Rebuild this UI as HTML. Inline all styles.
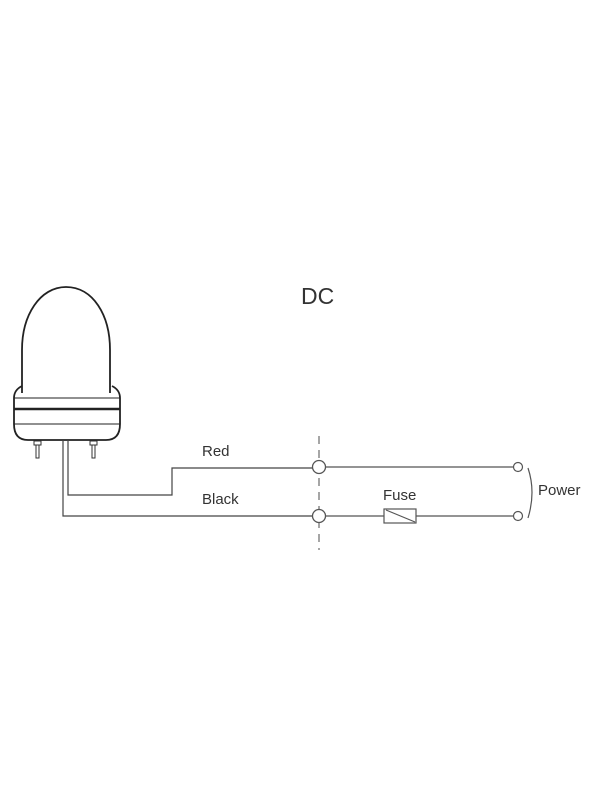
<!DOCTYPE html>
<html><head><style>
html,body{margin:0;padding:0;background:#fff;}
svg{display:block;}
text{font-family:"Liberation Sans",Arial,sans-serif;fill:#333;}
</style></head><body>
<svg width="600" height="800" viewBox="0 0 600 800">
<text x="301" y="304" font-size="23">DC</text>
<!-- lamp -->
<path d="M22,393 L22,350 C22,315 40,287 66,287 C93,287 110,315 110,350 L110,393" fill="none" stroke="#222" stroke-width="1.8"/>
<path d="M22,386 Q14,390 14,398 L14,424 Q14,440 28,440 L106,440 Q120,440 120,424 L120,398 Q120,390 112,386" fill="none" stroke="#222" stroke-width="1.8"/>
<line x1="14" y1="398" x2="120" y2="398" stroke="#222" stroke-width="1"/>
<line x1="14" y1="409" x2="120" y2="409" stroke="#222" stroke-width="2.5"/>
<line x1="14" y1="424" x2="120" y2="424" stroke="#222" stroke-width="1"/>
<rect x="34" y="441" width="7" height="4" fill="none" stroke="#333" stroke-width="1"/>
<rect x="36" y="445" width="3" height="13" fill="none" stroke="#333" stroke-width="1"/>
<rect x="90" y="441" width="7" height="4" fill="none" stroke="#333" stroke-width="1"/>
<rect x="92" y="445" width="3" height="13" fill="none" stroke="#333" stroke-width="1"/>
<!-- wires -->
<polyline points="68,440 68,495 172,495 172,468 313,468" fill="none" stroke="#444" stroke-width="1.2"/>
<polyline points="63,440 63,516 313,516" fill="none" stroke="#444" stroke-width="1.2"/>
<line x1="319" y1="436" x2="319" y2="550" stroke="#888" stroke-width="1.5" stroke-dasharray="8,6"/>
<circle cx="319" cy="467" r="6.5" fill="#fff" stroke="#555" stroke-width="1.3"/>
<circle cx="319" cy="516" r="6.5" fill="#fff" stroke="#555" stroke-width="1.3"/>
<line x1="326" y1="467" x2="514" y2="467" stroke="#555" stroke-width="1.2"/>
<line x1="326" y1="516" x2="384" y2="516" stroke="#555" stroke-width="1.2"/>
<line x1="416" y1="516" x2="514" y2="516" stroke="#555" stroke-width="1.2"/>
<rect x="384" y="509" width="32" height="14" fill="#fff" stroke="#555" stroke-width="1.2"/>
<line x1="386" y1="510" x2="415" y2="522" stroke="#555" stroke-width="1.2"/>
<circle cx="518" cy="467" r="4.5" fill="#fff" stroke="#555" stroke-width="1.2"/>
<circle cx="518" cy="516" r="4.5" fill="#fff" stroke="#555" stroke-width="1.2"/>
<path d="M528,468 Q536,492 528,518" fill="none" stroke="#555" stroke-width="1.2"/>
<text x="202" y="456" font-size="15">Red</text>
<text x="202" y="504" font-size="15">Black</text>
<text x="383" y="500" font-size="15">Fuse</text>
<text x="538" y="495" font-size="15">Power</text>
</svg>
</body></html>
